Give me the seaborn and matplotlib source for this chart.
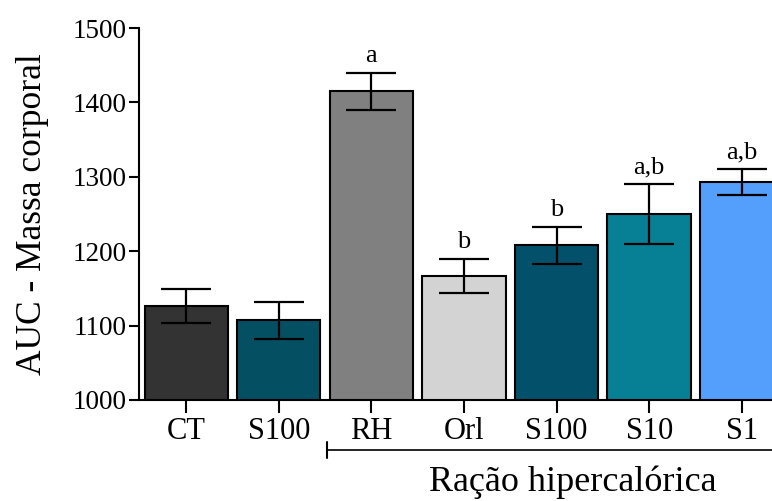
import matplotlib
matplotlib.use("Agg")
import matplotlib.pyplot as plt
import seaborn as sns
import numpy as np
import pandas as pd

sns.set_theme(style="ticks")
plt.rcParams['font.family'] = ['Liberation Serif', 'DejaVu Serif']
plt.rcParams.update({"text.color": "black", "axes.labelcolor": "black",
                     "xtick.color": "black", "ytick.color": "black"})

groups = ["CT", "S100", "RH", "Orl", "S100h", "S10", "S1"]
tick_labels = ["CT", "S100", "RH", "Orl", "S100", "S10", "S1"]
means = [1126, 1107, 1415, 1167, 1208, 1250, 1293]
errors = [23, 25, 25, 23, 25, 40, 18]
letters = ["", "", "a", "b", "b", "a,b", "a,b"]
colors = ["#333333", "#044f62", "#808080", "#d3d3d3", "#03506a", "#077f95", "#539ffb"]

df = pd.DataFrame({"group": groups, "mean": means})

fig = plt.figure(figsize=(7.72, 5.01), dpi=100)
ax = fig.add_axes([0.18, 0.2016, 0.83, 0.7425])

sns.barplot(data=df, x="group", y="mean", hue="group", palette=colors,
            legend=False, width=0.9, edgecolor="black", linewidth=1.5,
            saturation=1, ax=ax, errorbar=None)
x = np.arange(len(groups))
ax.errorbar(x, means, yerr=errors, fmt="none", ecolor="black",
            elinewidth=1.6, capsize=18, capthick=1.6)

for xi, m, e, l in zip(x, means, errors, letters):
    if l:
        ax.annotate(l, (xi, m + e), xytext=(0, 4), textcoords="offset points",
                    ha="center", va="bottom", fontsize=19, color="black")

ax.set_ylim(1000, 1500)
ax.set_yticks([1000, 1100, 1200, 1300, 1400, 1500])
ax.set_xlim(-0.51, 6.41)
ax.set_xticks(x)
ax.set_xticklabels(tick_labels, fontsize=22)
ax.tick_params(axis="y", labelsize=19.5, width=1.5, length=7, color="black",
               labelcolor="black", pad=2)
ax.tick_params(axis="x", width=1.5, length=9, color="black", labelcolor="black")
ax.set_xlabel("")
ax.set_ylabel("AUC - Massa corporal", fontsize=25.5, labelpad=17, color="black")
for s in ["top", "right"]:
    ax.spines[s].set_visible(False)
for s in ["left", "bottom"]:
    ax.spines[s].set_linewidth(1.5)
    ax.spines[s].set_color("black")

trans = ax.get_xaxis_transform()
ax.plot([1.525, 6.8], [-0.134, -0.134], color="black", lw=1.2,
        transform=trans, clip_on=False)
ax.plot([1.525, 1.525], [-0.112, -0.156], color="black", lw=1.5,
        transform=trans, clip_on=False)
ax.text(4.17, -0.222, "Ração hipercalórica", transform=trans, ha="center",
        va="center", fontsize=26, color="black")

fig.savefig("out.png", dpi=100)
